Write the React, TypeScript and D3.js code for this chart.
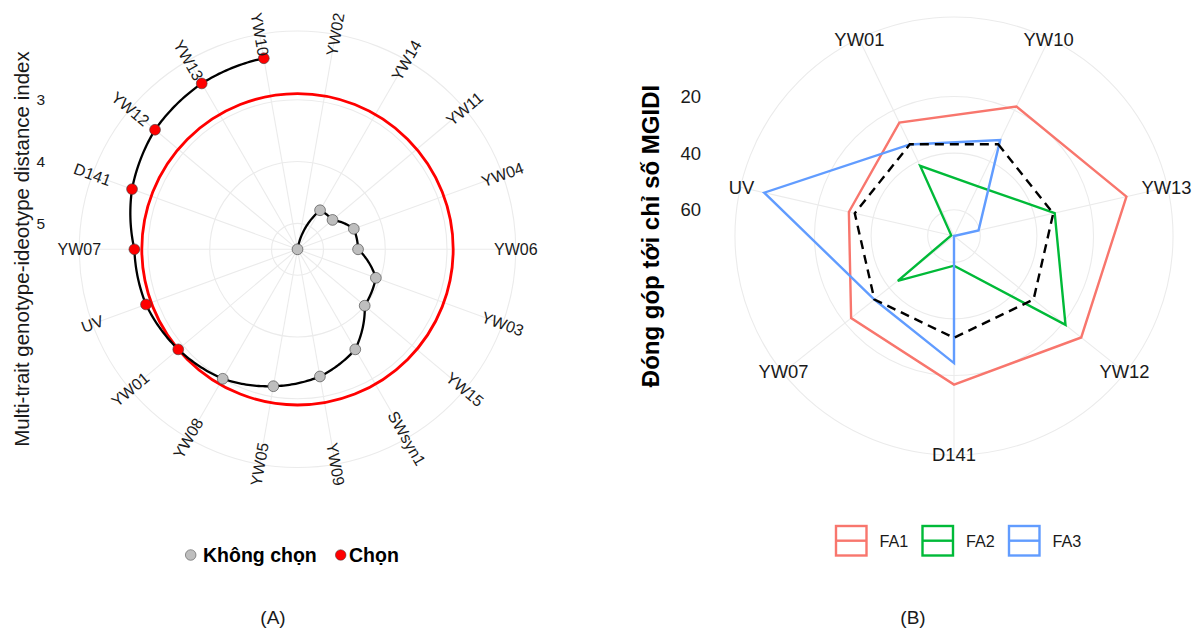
import React from "react";
import * as d3 from "d3";

// (A) MGIDI per genotype, in the order they sit around the circle
const genotypes = ["YW02", "YW14", "YW11", "YW04", "YW06", "YW03", "YW15", "SWsyn1", "YW09", "YW05", "YW08", "YW01", "UV", "YW07", "D141", "YW12", "YW13", "YW10"];
const mgidi = [5.42, 4.69, 4.68, 4.45, 4.44, 4.07, 4.0, 3.55, 3.33, 3.17, 3.0, 2.9, 2.81, 2.78, 2.57, 2.41, 2.32, 2.28];
const selected = ["YW01", "UV", "YW07", "D141", "YW12", "YW13", "YW10"];
const mgidiTicks = [3, 4, 5];

// (B) contribution (%) of each factor to the MGIDI of the selected genotypes
const selGenotypes = ["YW10", "YW13", "YW12", "D141", "YW07", "UV", "YW01"];
const fa1 = [18.5, 6.8, 11.8, 16.8, 22.8, 31.2, 24.8];
const fa2 = [49.8, 32.8, 18.9, 58.8, 43.9, 68.3, 41.8];
const fa3 = [31.7, 60.4, 69.3, 24.4, 33.3, 0.5, 33.4];
const factorNames = ["FA1", "FA2", "FA3"];
const factorColors = ["#F8766D", "#00BA38", "#619CFF"];
const contribTicks = [20, 40, 60];
const expectedContrib = 33.33;

const FONT = "'Liberation Sans', Arial, Helvetica, sans-serif";
const GRID = "#EBEBEB";

const polar = (cx: number, cy: number, a: number, r: number): [number, number] => [
  cx + r * Math.sin(a),
  cy - r * Math.cos(a),
];

const PanelA = () => {
  const cx = 297.5;
  const cy = 249.3;
  const R = 194 / 0.4;

  const theta = d3.scaleBand<string>().domain(genotypes).range([0, 2 * Math.PI]);
  const ang = (g: string) => (theta(g) as number) + theta.bandwidth() / 2;
  const r = d3
    .scaleLinear()
    .domain([d3.max(mgidi) as number, d3.min(mgidi) as number])
    .range([0, 0.4 * R]);

  // ggplot draws paths in polar space: angle and radius change together between points
  const munched: [number, number][] = [];
  for (let i = 0; i < genotypes.length - 1; i++) {
    const a0 = ang(genotypes[i]);
    const a1 = ang(genotypes[i + 1]);
    for (let k = 0; k < 24; k++) {
      const t = k / 24;
      munched.push([a0 + (a1 - a0) * t, r(mgidi[i] + (mgidi[i + 1] - mgidi[i]) * t)]);
    }
  }
  munched.push([ang(genotypes[genotypes.length - 1]), r(mgidi[mgidi.length - 1])]);
  const radial = d3
    .lineRadial<[number, number]>()
    .angle((d) => d[0])
    .radius((d) => d[1]);

  const cut = d3.max(genotypes.filter((g) => selected.includes(g)).map((g) => mgidi[genotypes.indexOf(g)])) as number;
  const outer = 0.45 * R;

  return (
    <g>
      {/* grid */}
      {mgidiTicks.map((t) => (
        <circle key={t} cx={cx} cy={cy} r={r(t)} fill="none" stroke={GRID} strokeWidth={1.1} />
      ))}
      <circle cx={cx} cy={cy} r={outer} fill="none" stroke={GRID} strokeWidth={1.1} />
      {genotypes.map((g) => {
        const [x, y] = polar(cx, cy, ang(g), outer);
        return <line key={g} x1={cx} y1={cy} x2={x} y2={y} stroke={GRID} strokeWidth={1.1} />;
      })}

      {/* cut point */}
      <circle cx={cx} cy={cy} r={r(cut)} fill="none" stroke="#FF0000" strokeWidth={2.8} />

      <path d={radial(munched) ?? ""} transform={`translate(${cx},${cy})`} fill="none" stroke="#000" strokeWidth={2.3} />

      {genotypes.map((g, i) => {
        const [x, y] = polar(cx, cy, ang(g), r(mgidi[i]));
        return (
          <circle key={g} cx={x} cy={y} r={5.4} fill={selected.includes(g) ? "#FF0000" : "#BEBEBE"} stroke="#3a3a3a" strokeWidth={0.6} />
        );
      })}

      {/* genotype labels, written along the radius */}
      {genotypes.map((g) => {
        const a = ang(g);
        const deg = (a * 180) / Math.PI;
        const rot = deg < 180 ? deg - 90 : deg - 270;
        const [x, y] = polar(cx, cy, a, outer);
        return (
          <text key={g} x={x} y={y} transform={`rotate(${rot},${x},${y})`} textAnchor="middle" dominantBaseline="central" fontSize={16} fill="#1a1a1a">
            {g}
          </text>
        );
      })}

      {mgidiTicks.map((t) => (
        <text key={t} x={45} y={cy - r(t)} textAnchor="end" dominantBaseline="central" fontSize={15.5} fill="#1a1a1a">
          {t}
        </text>
      ))}

      <text transform="translate(29,249) rotate(-90)" textAnchor="middle" fontSize={20.5} fill="#1a1a1a">
        Multi-trait genotype-ideotype distance index
      </text>

      {/* legend */}
      <circle cx={190.7} cy={555} r={5.3} fill="#BEBEBE" stroke="#3a3a3a" strokeWidth={0.5} />
      <text x={203} y={561.5} fontSize={19.5} fontWeight="bold" fill="#000">
        Không chọn
      </text>
      <circle cx={340.7} cy={555} r={5.3} fill="#FF0000" stroke="#3a3a3a" strokeWidth={0.5} />
      <text x={349} y={561.5} fontSize={19.5} fontWeight="bold" fill="#000">
        Chọn
      </text>

      <text x={273} y={624} textAnchor="middle" fontSize={19} fill="#1a1a1a">
        (A)
      </text>
    </g>
  );
};

const PanelB = () => {
  const cx = 954;
  const cy = 236;
  const R = 194.7 / 0.4;
  const series = [fa1, fa2, fa3];

  const theta = d3.scaleBand<string>().domain(selGenotypes).range([0, 2 * Math.PI]);
  const ang = (g: string) => (theta(g) as number) + theta.bandwidth() / 2;
  const all = [...fa1, ...fa2, ...fa3, expectedContrib];
  const r = d3
    .scaleLinear()
    .domain([d3.max(all) as number, d3.min(all) as number])
    .range([0, 0.4 * R]);
  const outer = 0.45 * R;

  const radar = d3
    .lineRadial<number>()
    .angle((_, i) => ang(selGenotypes[i]))
    .radius((d) => r(d))
    .curve(d3.curveLinearClosed);

  return (
    <g>
      {contribTicks.map((t) => (
        <circle key={t} cx={cx} cy={cy} r={r(t)} fill="none" stroke={GRID} strokeWidth={1.1} />
      ))}
      <circle cx={cx} cy={cy} r={outer} fill="none" stroke={GRID} strokeWidth={1.1} />
      {selGenotypes.map((g) => {
        const [x, y] = polar(cx, cy, ang(g), outer);
        return <line key={g} x1={cx} y1={cy} x2={x} y2={y} stroke={GRID} strokeWidth={1.1} />;
      })}

      <g transform={`translate(${cx},${cy})`}>
        {series.map((s, i) => (
          <path key={factorNames[i]} d={radar(s) ?? ""} fill="none" stroke={factorColors[i]} strokeWidth={2.4} strokeLinejoin="miter" />
        ))}
        <path d={radar(selGenotypes.map(() => expectedContrib)) ?? ""} fill="none" stroke="#000" strokeWidth={2.4} strokeDasharray="9,6" />
      </g>

      {selGenotypes.map((g) => {
        const [x, y] = polar(cx, cy, ang(g), 218);
        return (
          <text key={g} x={x} y={y} textAnchor="middle" dominantBaseline="central" fontSize={18.4} fill="#1a1a1a">
            {g}
          </text>
        );
      })}

      {contribTicks.map((t) => (
        <text key={t} x={701} y={cy - r(t)} textAnchor="end" dominantBaseline="central" fontSize={18.5} fill="#1a1a1a">
          {t}
        </text>
      ))}

      <text transform={`translate(659,${cy}) rotate(-90)`} textAnchor="middle" fontSize={24} fontWeight="bold" fill="#000">
        Đóng góp tới chỉ số MGIDI
      </text>

      {/* legend */}
      {factorNames.map((f, i) => {
        const x0 = [836, 922.5, 1009][i];
        return (
          <g key={f}>
            <rect x={x0} y={526} width={30.5} height={29.5} fill="none" stroke={factorColors[i]} strokeWidth={2.4} />
            <line x1={x0} x2={x0 + 30.5} y1={540.7} y2={540.7} stroke={factorColors[i]} strokeWidth={2.4} />
            <text x={x0 + 43.5} y={540.7} dominantBaseline="central" fontSize={16.2} fill="#1a1a1a">
              {f}
            </text>
          </g>
        );
      })}

      <text x={913} y={624} textAnchor="middle" fontSize={19} fill="#1a1a1a">
        (B)
      </text>
    </g>
  );
};

export default function App() {
  return (
    <svg
      width={1200}
      height={633}
      style={{ position: "absolute", left: 0, top: 0, background: "#fff", fontFamily: FONT }}
    >
      <rect width={1200} height={633} fill="#fff" />
      <PanelA />
      <PanelB />
    </svg>
  );
}
